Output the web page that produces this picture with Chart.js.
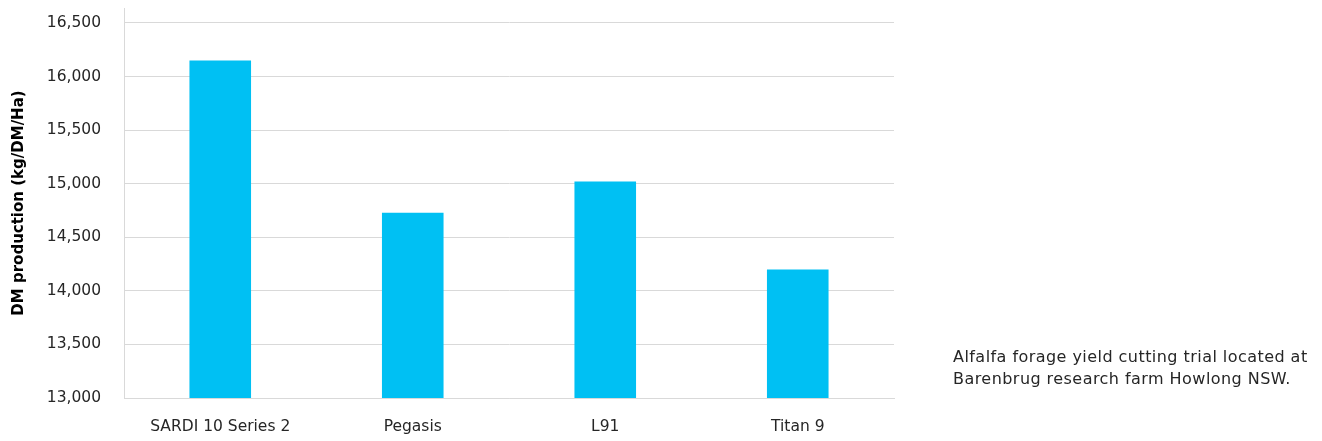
<!DOCTYPE html>
<html>
<head>
<meta charset="utf-8">
<script src="https://cdn.jsdelivr.net/npm/chart.js@4/dist/chart.umd.min.js"></script>
<style>
  html, body { margin: 0; padding: 0; background: #fff; }
  #wrap { position: relative; width: 1322px; height: 441px; }
  #note { position: absolute; left: 953px; top: 346px; font-family: "DejaVu Sans", sans-serif; font-size: 16px; letter-spacing: 0.45px; line-height: 22px; color: #262626; white-space: nowrap; }
</style>
</head>
<body>
<div id="wrap">
  <canvas id="c" width="1322" height="441"></canvas>
  <div id="note">Alfalfa forage yield cutting trial located at<br>Barenbrug research farm Howlong NSW.</div>
</div>
<script>
const categories = ["SARDI 10 Series 2", "Pegasis", "L91", "Titan 9"];
const values = [16150, 14730, 15020, 14200];
const yTicks = [13000, 13500, 14000, 14500, 15000, 15500, 16000, 16500];
const yTitle = "DM production (kg/DM/Ha)";

const FONT = "DejaVu Sans";

new Chart(document.getElementById("c"), {
  type: "bar",
  data: {
    labels: categories,
    datasets: [{
      data: values,
      backgroundColor: "#00C0F3",
      barPercentage: 0.32,
      categoryPercentage: 1.0
    }]
  },
  options: {
    responsive: false,
    animation: false,
    devicePixelRatio: 1,
    layout: { padding: { top: 8, right: 428, left: 0, bottom: 0 } },
    plugins: { legend: { display: false }, tooltip: { enabled: false } },
    scales: {
      x: {
        grid: { display: false, drawTicks: false },
        border: { display: true, color: "#d9d9d9", width: 1 },
        ticks: { color: "#262626", font: { family: FONT, size: 15.5 }, padding: 20, maxRotation: 0 },
        afterFit: (axis) => { axis.height = 43; axis.paddingLeft = 0; axis.paddingRight = 0; }
      },
      y: {
        min: 13000,
        max: 16640,
        afterBuildTicks: (axis) => { axis.ticks = yTicks.map(v => ({ value: v })); },
        afterFit: (axis) => { axis.width = 124; axis.paddingTop = 0; axis.paddingBottom = 0; },
        grid: { color: "#d9d9d9", lineWidth: 1, drawTicks: false },
        border: { display: true, color: "#d9d9d9", width: 1 },
        ticks: {
          color: "#262626",
          font: { family: FONT, size: 15.5 },
          padding: 23,
          callback: (v) => v.toLocaleString("en-US")
        },
        title: {
          display: true,
          text: yTitle,
          color: "#000",
          font: { family: FONT, size: 15, weight: "bold" },
          padding: { top: 10, bottom: 6 }
        }
      }
    }
  }
});
</script>
</body>
</html>
